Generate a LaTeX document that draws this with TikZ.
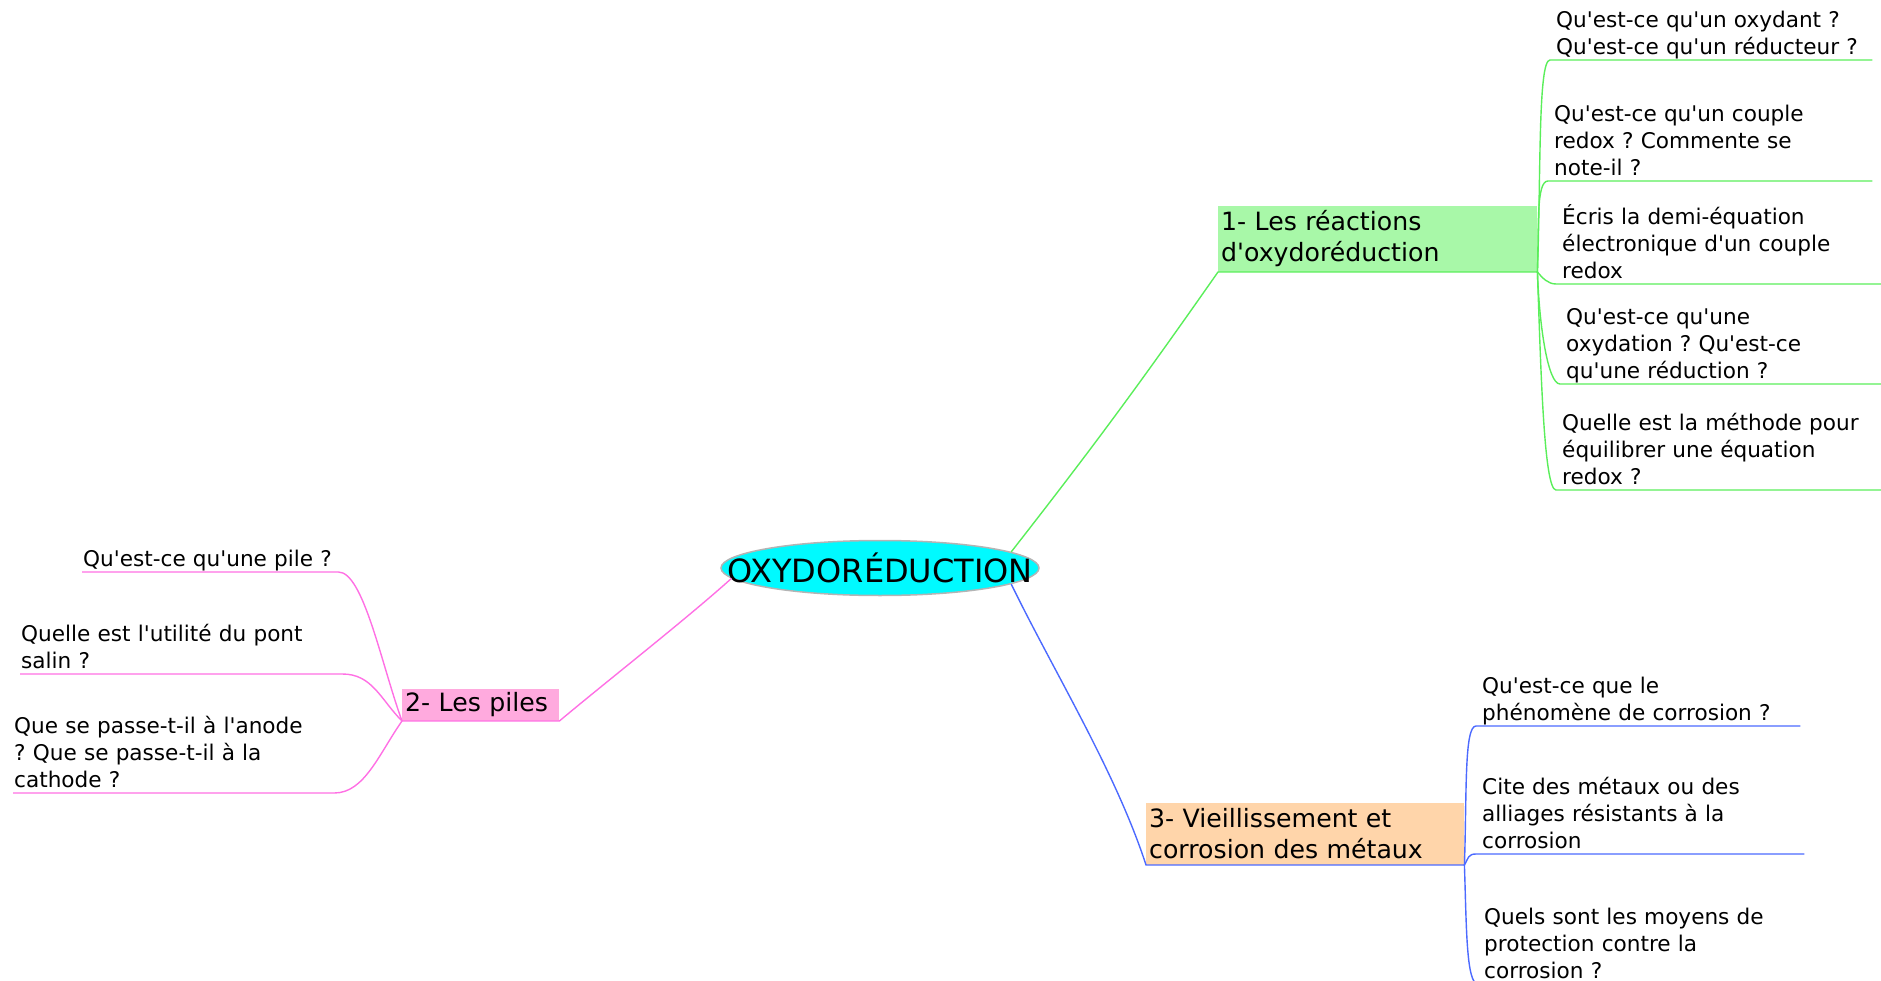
\documentclass[tikz,border=0pt]{standalone}
\usepackage{fontspec}
\usepackage{tikz}
\usetikzlibrary{shapes.geometric}
\usetikzlibrary{positioning}
\newfontfamily\mapfont{DejaVu Sans}
\frenchspacing
\definecolor{hubfill}{RGB}{0,250,255}
\definecolor{hubedge}{RGB}{180,180,180}
\definecolor{greenfill}{RGB}{168,248,168}
\definecolor{pinkfill}{RGB}{255,170,222}
\definecolor{peachfill}{RGB}{255,213,170}
\definecolor{greenline}{RGB}{90,238,90}
\definecolor{pinkline}{RGB}{255,112,228}
\definecolor{blueline}{RGB}{76,106,255}

\begin{document}
\begin{tikzpicture}[x=1pt, y=1pt,
    hub/.style={ellipse, draw=hubedge, fill=hubfill, line width=1.5pt, minimum width=318pt, minimum height=55pt, inner sep=0pt},
    branch/.style={anchor=south west, inner xsep=3pt, inner ysep=0pt, align=left, font=\mapfont\fontsize{25.2}{31}\selectfont},
    leaf/.style={anchor=south west, inner xsep=6pt, inner ysep=0pt, align=left, font=\mapfont\fontsize{21.6}{27}\selectfont, execute at end node={\rule[-5pt]{0pt}{1pt}}},
    leftleaf/.style={leaf, inner xsep=1pt},
    gline/.style={draw=greenline, line width=1.4pt},
    pline/.style={draw=pinkline, line width=1.4pt},
    bline/.style={draw=blueline, line width=1.4pt}]
    \useasboundingbox (0,0) rectangle (1881,-981);
    \clip (0,0) rectangle (1881,-981);

    \node [hub] (hub) at (880,-568) {};
    \node [font=\mapfont\fontsize{32}{36}\selectfont] (title) at (hub) {OXYDORÉDUCTION};

    % the three parts
    \node [branch, fill=greenfill, text width=313pt, minimum height=66pt] (react) at (1218,-272) {1- Les réactions\\d'oxydoréduction};
    \node [branch, fill=pinkfill, text width=151pt, minimum height=32pt] (piles) at (402,-721) {2- Les piles};
    \node [branch, fill=peachfill, text width=312pt, minimum height=62pt] (corro) at (1146,-865) {3- Vieillissement et\\corrosion des métaux};

    \draw [gline] (hub.7) to[out=52, in=235] (react.south west) -- (react.south east);
    \draw [pline] (hub.184) to[out=222, in=40, looseness=0.7] (piles.south east) -- (piles.south west);
    \draw [bline] (hub.-7) to[out=-64, in=108, looseness=0.8] (corro.south west) -- (corro.south east);

    % questions of part 1
    \node [leaf, text width=310pt] (oxyd) at (1550,-60) {Qu'est-ce qu'un oxydant ?\\Qu'est-ce qu'un réducteur ?};
    \node [leaf, text width=312pt] (couple) at (1548,-181) {Qu'est-ce qu'un couple\\redox ? Commente se\\note-il ?};
    \node [leaf, text width=313pt] (demi) at (1556,-284) {Écris la demi-équation\\électronique d'un couple\\redox};
    \node [leaf, text width=309pt] (oxred) at (1560,-384) {Qu'est-ce qu'une\\oxydation ? Qu'est-ce\\qu'une réduction ?};
    \node [leaf, text width=313pt] (methode) at (1556,-490) {Quelle est la méthode pour\\équilibrer une équation\\redox ?};

    \draw [gline] (react.south east) to[out=88, in=180, out distance=100pt, in distance=12pt] (oxyd.south west) -- (oxyd.south east);
    \draw [gline] (react.south east) to[out=88, in=180, out distance=45pt, in distance=12pt] (couple.south west) -- (couple.south east);
    \draw [gline] (react.south east) to[out=-50, in=180, out distance=8pt, in distance=8pt] (demi.south west) -- (demi.south east);
    \draw [gline] (react.south east) to[out=-88, in=180, out distance=55pt, in distance=12pt] (oxred.south west) -- (oxred.south east);
    \draw [gline] (react.south east) to[out=-88, in=180, out distance=100pt, in distance=12pt] (methode.south west) -- (methode.south east);

    % questions of part 2
    \node [leftleaf, text width=254pt] (pile) at (82,-572) {Qu'est-ce qu'une pile ?};
    \node [leftleaf, text width=320pt] (pont) at (20,-674) {Quelle est l'utilité du pont\\salin ?};
    \node [leftleaf, text width=319pt] (anode) at (13,-793) {Que se passe-t-il à l'anode\\? Que se passe-t-il à la\\cathode ?};

    \draw [pline] (piles.south west) to[out=110, in=0, out distance=60pt, in distance=25pt] (pile.south east) -- (pile.south west);
    \draw [pline] (piles.south west) to[out=135, in=0, out distance=30pt, in distance=30pt] (pont.south east) -- (pont.south west);
    \draw [pline] (piles.south west) to[out=-125, in=0, out distance=40pt, in distance=30pt] (anode.south east) -- (anode.south west);

    % questions of part 3
    \node [leaf, text width=312pt] (phen) at (1476,-726) {Qu'est-ce que le\\phénomène de corrosion ?};
    \node [leaf, text width=316pt] (alliage) at (1476,-854) {Cite des métaux ou des\\alliages résistants à la\\corrosion};
    \node [leaf, text width=314pt] (protec) at (1478,-984) {Quels sont les moyens de\\protection contre la\\corrosion ?};

    \draw [bline] (corro.south east) to[out=88, in=180, out distance=70pt, in distance=12pt] (phen.south west) -- (phen.south east);
    \draw [bline] (corro.south east) to[out=60, in=180, out distance=8pt, in distance=8pt] (alliage.south west) -- (alliage.south east);
    \draw [bline] (corro.south east) to[out=-88, in=180, out distance=60pt, in distance=12pt] (protec.south west) -- (protec.south east);
\end{tikzpicture}
\end{document}
